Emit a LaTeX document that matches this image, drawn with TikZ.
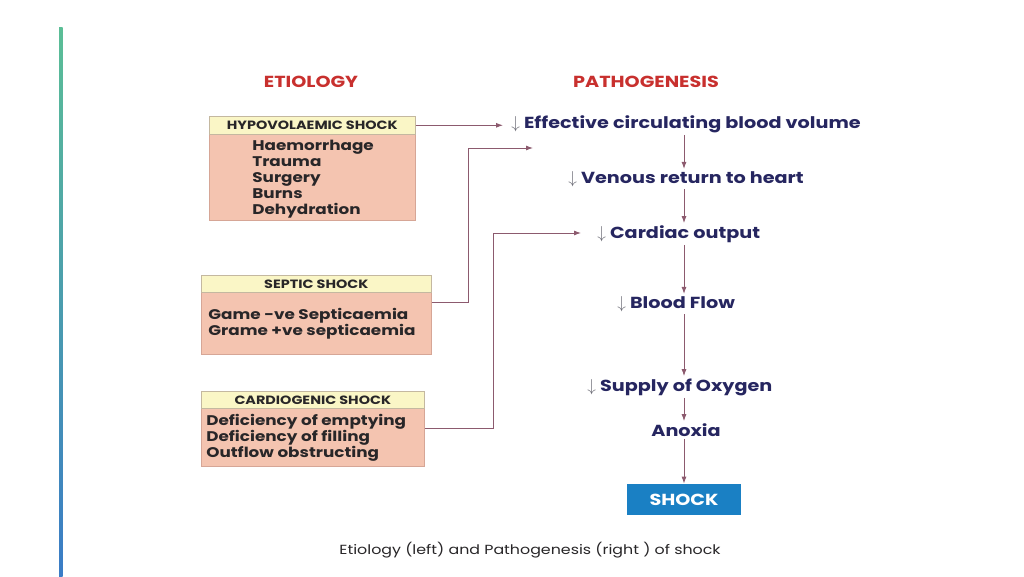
\documentclass[tikz,border=0pt]{standalone}
\usepackage{fontspec}
\setmainfont{Poppins}[FakeStretch=1.2]
\usetikzlibrary{arrows.meta}
\definecolor{titleRed}{RGB}{200,48,46}
\definecolor{headFill}{RGB}{250,246,198}
\definecolor{headEdge}{RGB}{196,184,160}
\definecolor{bodyFill}{RGB}{244,196,176}
\definecolor{bodyEdge}{RGB}{214,166,150}
\definecolor{itemText}{RGB}{40,38,40}
\definecolor{pathText}{RGB}{38,38,96}
\definecolor{downCol}{RGB}{110,110,120}
\definecolor{linkCol}{RGB}{140,90,110}
\definecolor{shockFill}{RGB}{26,128,196}
\definecolor{barTop}{RGB}{91,190,150}
\definecolor{barBot}{RGB}{58,124,198}
\tikzset{every picture/.style={line width=0.75pt}}
\newcommand{\dn}{\textcolor{downCol}{$\downarrow$}}

\begin{document}
\begin{tikzpicture}[x=1pt,y=1pt,yscale=-1,xscale=1,
	title/.style={font=\fontsize{16}{18}\selectfont\bfseries, text=titleRed, inner sep=0},
	headbox/.style={draw=headEdge, fill=headFill, line width=0.6pt, font=\fontsize{12}{14}\selectfont\bfseries, text=itemText, anchor=north west, inner sep=0},
	bodybox/.style={draw=bodyEdge, fill=bodyFill, line width=0.6pt, anchor=north west, inner sep=0},
	items/.style={font=\fontsize{14}{16}\selectfont\bfseries, text=itemText, align=left, anchor=west, inner sep=0},
	stage/.style={font=\fontsize{16}{18}\selectfont\bfseries, text=pathText, anchor=west, inner sep=2pt},
	link/.style={draw=linkCol, line width=0.9pt, -{Latex[length=7pt,width=5pt]}},
	]
	\useasboundingbox (0,0) rectangle (1024,576);
	\shade [top color=barTop, bottom color=barBot] (59,27) rectangle (62.5,576);

	% titles
	\node [title] (etio) at (311,82) {ETIOLOGY};
	\node [title] (patho) at (646,82) {PATHOGENESIS};

	% etiology boxes
	\node [bodybox, minimum width=206pt, minimum height=86pt] (hypBody) at (209,134) {};
	\node [headbox, minimum width=206pt, minimum height=18pt] (hypHead) at (209,116) {HYPOVOLAEMIC SHOCK};
	\node [items] (hypList) at (252,179) {Haemorrhage\\Trauma\\Surgery\\Burns\\Dehydration};

	\node [bodybox, minimum width=230pt, minimum height=62pt] (sepBody) at (201,292) {};
	\node [headbox, minimum width=230pt, minimum height=17pt] (sepHead) at (201,275) {SEPTIC SHOCK};
	\node [items] (sepList) at (208,324) {Game -ve Septicaemia\\Grame +ve septicaemia};

	\node [bodybox, minimum width=223pt, minimum height=58pt] (cardBody) at (201,408) {};
	\node [headbox, minimum width=223pt, minimum height=17pt] (cardHead) at (201,391) {CARDIOGENIC SHOCK};
	\node [items] (cardList) at (206,438) {Deficiency of emptying\\Deficiency of filling\\Outflow obstructing};

	% pathogenesis chain
	\node [stage] (eff) at (509,124) {\dn\ Effective circulating blood volume};
	\node [stage] (ven) at (566,179) {\dn\ Venous return to heart};
	\node [stage] (card) at (595,234) {\dn\ Cardiac output};
	\node [stage] (flow) at (615,304) {\dn\ Blood Flow};
	\node [stage] (oxy) at (585,387) {\dn\ Supply of Oxygen};
	\node [stage, anchor=center] (anox) at (686,430) {Anoxia};
	\node [fill=shockFill, text=white, minimum width=114pt, minimum height=31pt, inner sep=0, font=\fontsize{16}{18}\selectfont\bfseries] (shock) at (684,499.5) {SHOCK};

	\draw [link] (eff.south -| shock.north) -- (ven.north -| shock.north);
	\draw [link] (ven.south -| shock.north) -- (card.north -| shock.north);
	\draw [link] (card.south -| shock.north) -- (flow.north -| shock.north);
	\draw [link] (flow.south -| shock.north) -- (oxy.north -| shock.north);
	\draw [link] (oxy.south -| shock.north) -- (anox.north -| shock.north);
	\draw [link] (anox.south -| shock.north) -- (shock.north);

	% etiology links
	\draw [link] (hypHead.east) -- ([xshift=-6pt]hypHead.east -| eff.west);
	\coordinate (sepIn) at (533,148);
	\draw [link] ([yshift=10pt]sepBody.north east) -- ++(37,0) |- (sepIn);
	\draw [link] ([yshift=20pt]cardBody.north east) -- ++(69,0) |- ([xshift=-14pt,yshift=-1pt]card.west);

	\node [font=\fontsize{13.2}{15}\selectfont, text=itemText] (cap) at (530,550) {Etiology (left) and Pathogenesis (right ) of shock};
\end{tikzpicture}
\end{document}
